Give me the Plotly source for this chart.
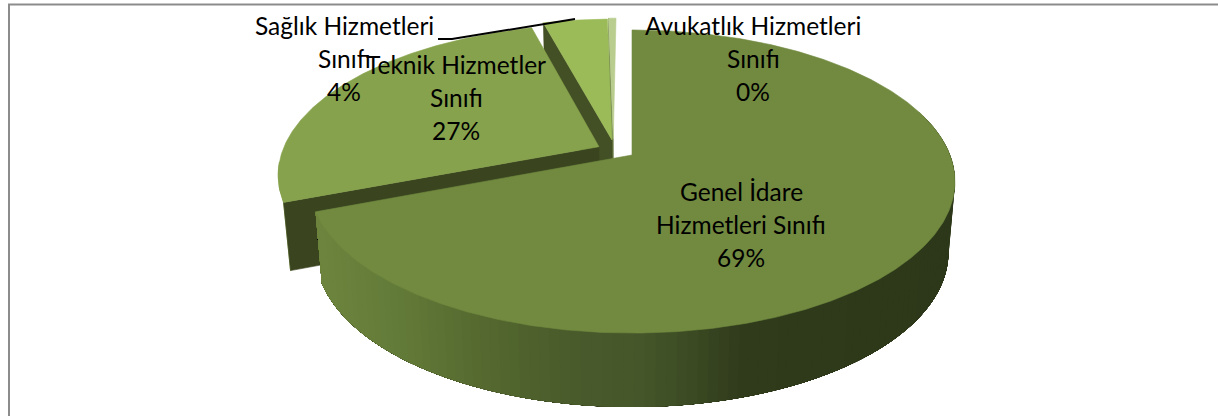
import math
import plotly.graph_objects as go

# ---- data ----
categories = ["Genel İdare Hizmetleri Sınıfı", "Teknik Hizmetler Sınıfı",
              "Sağlık Hizmetleri Sınıfı", "Avukatlık Hizmetleri Sınıfı"]
values = [69.1, 26.6, 3.85, 0.45]
label_lines = [["Genel İdare", "Hizmetleri Sınıfı"], ["Teknik Hizmetler", "Sınıfı"],
               ["Sağlık Hizmetleri", "Sınıfı"], ["Avukatlık Hizmetleri", "Sınıfı"]]

# ---- style / layout ----
top_colors = ["#718a3f", "#87a24c", "#9bbb59", "#b9cd8f"]
face_colors = [None, "#3a4520", "#434f24", "#6a7a48"]
explode = [(0, 0), (-0.105, 0.057), (-0.064, 0.104), (-0.060, 0.113)]
depth_trim = [0, -3, 0, 0]
label_pos = [(741, 191), (456, 64), (344, 25), (753, 25)]
CX, CY, RX, RY, K = 632, 155, 318, 146.9, 0.175
LINE_GAP = 33
wall_stops = [(320, "#6d843e"), (400, "#627a38"), (480, "#55692f"), (560, "#4a5c2b"),
              (640, "#45562a"), (700, "#3a4822"), (740, "#303b1b"), (960, "#2d381a")]


def top_pt(u, v):
    s = 1 + K * v
    return CX + RX * u / s, CY - RY * v / s


def low_pt(u, v, trim=0):
    x, y = top_pt(u, v)
    return CX + 0.98 * (x - CX), y + 70 - 4 * v + trim


def rim(theta, off):
    t = math.radians(theta)
    return math.sin(t) + off[0], math.cos(t) + off[1]


def hex_mix(c1, c2, f):
    a = [int(c1[i:i + 2], 16) for i in (1, 3, 5)]
    b = [int(c2[i:i + 2], 16) for i in (1, 3, 5)]
    return "#" + "".join(f"{round(p + (q - p) * f):02x}" for p, q in zip(a, b))


def wall_color(x):
    for (x0, c0), (x1, c1) in zip(wall_stops, wall_stops[1:]):
        if x <= x1:
            return hex_mix(c0, c1, max(0, (x - x0) / (x1 - x0)))
    return wall_stops[-1][1]


fig = go.Figure()


def poly(pts, color, lw=0.6):
    fig.add_trace(go.Scatter(x=[p[0] for p in pts] + [pts[0][0]], y=[p[1] for p in pts] + [pts[0][1]],
                             mode="lines", fill="toself", fillcolor=color,
                             line=dict(color=color, width=lw), hoverinfo="skip", showlegend=False))


# slice angular ranges from the values
total = sum(values)
ranges, acc = [], 0.0
for val in values:
    ranges.append((acc * 360 / total, (acc + val) * 360 / total))
    acc += val

# painter's order: back slices first
for i in [3, 2, 1, 0]:
    a0, a1 = ranges[i]
    off = explode[i]
    trim = depth_trim[i]
    if i == 0:
        n = 110
        lo = 72
        # every strip reaches the far end of the wall, later strips paint over it: no seams
        for j in range(n):
            t0 = lo + (a1 - lo) * j / n
            t1 = lo + (a1 - lo) * (j + 1) / n
            ts = [t0 + (a1 - t0) * q / 40 for q in range(41)]
            pts = [top_pt(*rim(t, off)) for t in ts] + [low_pt(*rim(t, off)) for t in reversed(ts)]
            xm = (top_pt(*rim(t0, off))[0] + top_pt(*rim(t1, off))[0]) / 2
            poly(pts, wall_color(xm), lw=0)
    else:
        if i == 1:  # thin sliver of the outer rim at the left corner
            ts = [a0 + (264 - a0) * j / 10 for j in range(11)]
            poly([top_pt(*rim(t, off)) for t in ts] + [low_pt(*rim(a0, off), trim)], "#7f9a45")
        poly([top_pt(*rim(a0, off)), top_pt(*off), low_pt(*off, trim), low_pt(*rim(a0, off), trim)], face_colors[i])
    steps = max(4, int(a1 - a0) * 2)
    arc = [top_pt(*rim(a0 + (a1 - a0) * j / steps, off)) for j in range(steps + 1)]
    poly([top_pt(*off)] + arc, top_colors[i])

# chart frame (left and top only are visible in the picture)
fig.add_trace(go.Scatter(x=[9, 9, 1218], y=[416, 4.5, 4.5], mode="lines",
                         line=dict(color="#8c8c8c", width=2), hoverinfo="skip", showlegend=False))
# leader line of the Sağlık label
fig.add_trace(go.Scatter(x=[438, 452, 575], y=[39, 39, 19], mode="lines",
                         line=dict(color="#000000", width=2), hoverinfo="skip", showlegend=False))

annotations = []
for lines, val, (lx, ly) in zip(label_lines, values, label_pos):
    for j, txt in enumerate(lines + [f"{val:.0f}%"]):
        annotations.append(dict(x=lx, y=ly + j * LINE_GAP, text=txt, showarrow=False,
                                xanchor="center", yanchor="middle",
                                font=dict(family="Lato, Carlito, sans-serif", size=24.5, color="#000000")))

fig.update_layout(
    width=1218, height=416, margin=dict(l=0, r=0, t=0, b=0),
    paper_bgcolor="#ffffff", plot_bgcolor="#ffffff", showlegend=False, annotations=annotations,
    xaxis=dict(range=[0, 1218], visible=False, fixedrange=True),
    yaxis=dict(range=[416, 0], visible=False, fixedrange=True),
)
fig.write_html("out.html", config={"displayModeBar": False},
               post_script="document.body.style.margin='0';document.body.style.overflow='hidden';")
